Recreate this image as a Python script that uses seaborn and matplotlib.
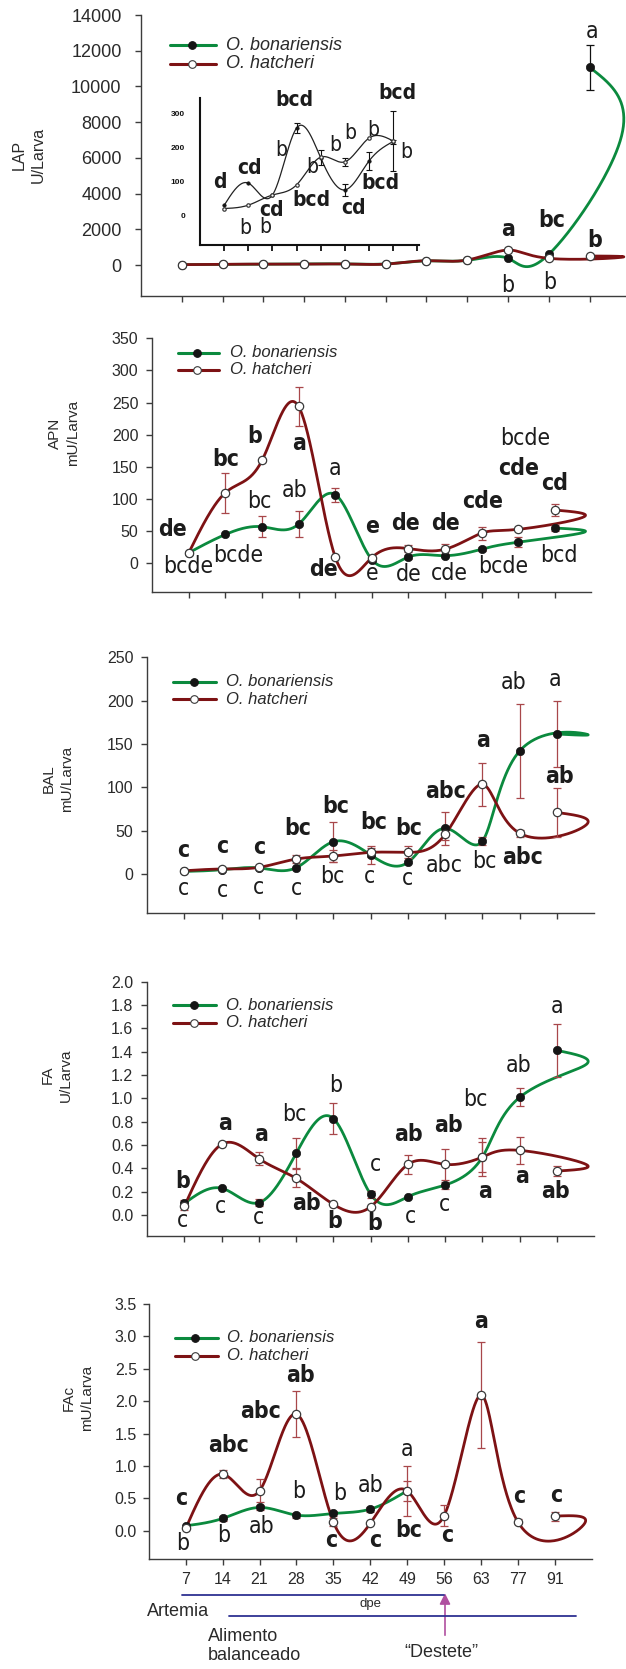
import numpy as np
import seaborn as sns
import matplotlib
matplotlib.use("Agg")
import matplotlib.pyplot as plt
from matplotlib import font_manager
from matplotlib.lines import Line2D
from matplotlib.patches import FancyArrowPatch

sns.set_theme(style="ticks")
plt.rcParams['font.family'] = ['Liberation Sans', 'DejaVu Sans']

# ------------------------------------------------------------------
# datos (dias post eclosion, posiciones equiespaciadas)
days = ['7', '14', '21', '28', '35', '42', '49', '56', '63', '77', '91']
tail_pos = 10.78   # las curvas ajustadas pasan del ultimo dia y vuelven

# LAP  U/Larva
lap_bon = [20, 30, 40, 60, 60, 60, 230, 260, 373, 600, 11070]
lap_bon_err = [0, 0, 0, 0, 0, 0, 0, 0, 0, 0, 1250]
lap_hat = [20, 40, 50, 50, 60, 50, 240, 280, 840, 373, 504]
lap_hat_err = [0] * 11
lap_tail = [7200, 430]

# LAP recuadro (primeros 8 muestreos)
ins_bon = [30, 95, 60, 258, 170, 75, 160, 218]
ins_bon_err = [0, 0, 0, 15, 22, 18, 27, 6]
ins_hat = [20, 30, 60, 90, 172, 158, 228, 220]
ins_hat_err = [0, 0, 0, 0, 0, 12, 0, 89]

# APN  mU/Larva
apn_bon = [16.6, 45, 57, 61, 107, 6, 10, 12, 22, 33, 55]
apn_bon_err = [0, 0, 16, 20, 11, 0, 3, 2, 3, 8, 5]
apn_hat = [16.6, 110, 160, 244, 10, 9, 23, 22, 47, 53, 83]
apn_hat_err = [0, 31, 3, 31, 0, 0, 6, 8, 10, 0, 10]
apn_tail = [48, 72]

# BAL  mU/Larva
bal_bon = [3, 5, 7, 7.3, 37.3, 22, 13.5, 52.7, 38, 142, 161.5]
bal_bon_err = [0, 0, 0, 0, 23, 10, 0, 19, 5, 54, 38.5]
bal_hat = [3.8, 5.8, 7.7, 17.3, 20.8, 25, 25, 45.8, 103.5, 47, 71]
bal_hat_err = [0, 0, 0, 5, 7, 5, 7, 6, 25, 4, 28]
bal_tail = [161.5, 56.5]

# FA  U/Larva
fa_bon = [0.10, 0.229, 0.106, 0.529, 0.826, 0.177, 0.157, 0.257, 0.497, 1.009, 1.411]
fa_bon_err = [0.03, 0, 0.03, 0.13, 0.13, 0.03, 0, 0.03, 0.16, 0.076, 0.23]
fa_hat = [0.077, 0.606, 0.483, 0.314, 0.091, 0.071, 0.434, 0.434, 0.497, 0.554, 0.377]
fa_hat_err = [0.03, 0, 0.057, 0.077, 0, 0, 0.08, 0.13, 0.13, 0.116, 0.04]
fa_tail = [1.29, 0.434]

# FAc  mU/Larva (O. bonariensis solo hasta 49 dpe)
fac_bon = [0.077, 0.19, 0.36, 0.242, 0.267, 0.334, 0.617]
fac_bon_err = [0, 0.04, 0.04, 0.04, 0.04, 0.04, 0.155]
fac_hat = [0.036, 0.874, 0.617, 1.80, 0.139, 0.113, 0.617, 0.231, 2.094, 0.139, 0.226]
fac_hat_err = [0, 0.065, 0.175, 0.35, 0.06, 0, 0.39, 0.16, 0.82, 0.04, 0.07]
fac_tail = [None, 0.09]

# letras de significancia: (posicion, valor, texto, peso)
lap_let = [(10.05, 13066, 'a', 'normal'), (8.0, 1960, 'a', 'bold'), (8.0, -1120, 'b', 'normal'),
           (9.07, 2481, 'bc', 'bold'), (9.03, -991, 'b', 'normal'), (10.13, 1361, 'b', 'bold')]
ins_let = [(2.93, 341, 'bcd', 'bold'), (7.17, 362, 'bcd', 'bold'), (-0.18, 99, 'd', 'bold'),
           (1.06, 139, 'cd', 'bold'), (0.86, -38, 'b', 'normal'), (1.98, 16, 'cd', 'bold'),
           (1.72, -36, 'b', 'normal'), (2.38, 193, 'b', 'normal'), (3.63, 45, 'bcd', 'bold'),
           (3.63, 144, 'b', 'normal'), (4.59, 208, 'b', 'normal'), (5.24, 243, 'b', 'normal'),
           (5.35, 21, 'cd', 'bold'), (6.18, 253, 'b', 'normal'), (6.46, 95, 'bcd', 'bold'),
           (7.57, 188, 'b', 'normal')]
apn_let = [(-0.45, 52, 'de', 'bold'), (-0.03, -5, 'bcde', 'normal'), (1.0, 161, 'bc', 'bold'),
           (1.35, 13, 'bcde', 'normal'), (1.79, 197, 'b', 'bold'), (1.93, 96, 'bc', 'normal'),
           (3.0, 187, 'a', 'bold'), (2.88, 114, 'ab', 'normal'), (4.0, 148, 'a', 'normal'),
           (3.68, -10, 'de', 'bold'), (5.0, 58, 'e', 'bold'), (5.0, -16, 'e', 'normal'),
           (5.91, 62, 'de', 'bold'), (6.02, -18, 'de', 'normal'), (7.02, 62, 'de', 'bold'),
           (7.13, -15, 'cde', 'normal'), (8.04, 96, 'cde', 'bold'), (8.58, -5, 'bcde', 'normal'),
           (9.18, 194, 'bcde', 'normal'), (9.0, 148, 'cde', 'bold'), (10.0, 124, 'cd', 'bold'),
           (10.1, 13, 'bcd', 'normal')]
bal_let = [(-0.02, 27.7, 'c', 'bold'), (-0.02, -16.5, 'c', 'normal'), (1.02, 32.3, 'c', 'bold'),
           (1.02, -18.5, 'c', 'normal'), (2.0, 30.4, 'c', 'bold'), (2.0, -15.4, 'c', 'normal'),
           (3.03, 52.7, 'bc', 'bold'), (3.0, -16.5, 'c', 'normal'), (4.05, 77.7, 'bc', 'bold'),
           (3.98, -3, 'bc', 'normal'), (5.09, 59.6, 'bc', 'bold'), (4.98, -3, 'c', 'normal'),
           (6.03, 52.7, 'bc', 'bold'), (6.0, -5, 'c', 'normal'), (7.0, 95, 'abc', 'bold'),
           (6.97, 10.4, 'abc', 'normal'), (8.02, 153.5, 'a', 'bold'), (8.05, 14.2, 'bc', 'normal'),
           (8.84, 220.7, 'ab', 'normal'), (9.09, 18.8, 'abc', 'bold'), (9.95, 224.6, 'a', 'normal'),
           (10.08, 112.3, 'ab', 'bold')]
fa_let = [(-0.05, 0.286, 'b', 'bold'), (-0.05, -0.043, 'c', 'normal'), (1.1, 0.786, 'a', 'bold'),
          (0.96, 0.071, 'c', 'normal'), (2.06, 0.694, 'a', 'bold'), (1.98, -0.02, 'c', 'normal'),
          (2.95, 0.863, 'bc', 'normal'), (3.27, 0.1, 'ab', 'bold'), (4.05, 1.114, 'b', 'normal'),
          (4.03, -0.057, 'b', 'bold'), (5.12, 0.437, 'c', 'normal'), (5.1, -0.071, 'b', 'bold'),
          (6.01, 0.694, 'ab', 'bold'), (6.06, -0.014, 'c', 'normal'), (7.1, 0.771, 'ab', 'bold'),
          (6.99, 0.086, 'c', 'normal'), (7.8, 0.986, 'bc', 'normal'), (8.07, 0.2, 'a', 'bold'),
          (8.98, 1.28, 'ab', 'normal'), (9.07, 0.329, 'a', 'bold'), (10.0, 1.79, 'a', 'normal'),
          (9.95, 0.2, 'ab', 'bold')]
fac_let = [(-0.11, 0.5, 'c', 'bold'), (-0.07, -0.195, 'b', 'normal'), (1.15, 1.32, 'abc', 'bold'),
           (1.02, -0.067, 'b', 'normal'), (2.02, 1.84, 'abc', 'bold'), (2.05, 0.062, 'ab', 'normal'),
           (3.12, 2.4, 'ab', 'bold'), (3.07, 0.6, 'b', 'normal'), (4.17, 0.576, 'b', 'normal'),
           (3.94, -0.144, 'c', 'bold'), (5.0, 0.705, 'ab', 'normal'), (5.15, -0.144, 'c', 'bold'),
           (6.01, 1.255, 'a', 'normal'), (6.04, 0.01, 'bc', 'bold'), (7.08, -0.067, 'c', 'bold'),
           (8.0, 3.225, 'a', 'bold'), (9.04, 0.525, 'c', 'bold'), (10.04, 0.55, 'c', 'bold')]

# ------------------------------------------------------------------
GREEN = '#0b8a3e'
RED = '#7d1214'
ERR = '#a8474a'
INK = '#1c1c1c'
AXC = '#3c3c3c'

fonts = font_manager.fontManager.ttflist
names = {f.name for f in fonts}
if 'Liberation Sans Narrow' in names:
    LET = dict(family=['Liberation Sans Narrow', 'DejaVu Sans'])
    LET_FS = 17.5
elif any(f.name == 'DejaVu Sans' and str(f.stretch) == 'condensed' for f in fonts):
    LET = dict(family=['DejaVu Sans'], fontstretch='condensed')
    LET_FS = 16.5
else:
    LET = dict(family=['Liberation Sans', 'DejaVu Sans'])
    LET_FS = 15

W, H = 626, 1669
fig = plt.figure(figsize=(W / 100, H / 100), dpi=100)
fig.patch.set_facecolor('white')


def box(l, t, r, b):
    return [l / W, 1 - b / H, (r - l) / W, (b - t) / H]


def fp(x, y):
    return (x / W, 1 - y / H)


def nat_spline(t, v, tt):
    n = len(t)
    h = np.diff(t)
    A = np.zeros((n, n))
    r = np.zeros(n)
    A[0, 0] = A[-1, -1] = 1.0
    for i in range(1, n - 1):
        A[i, i - 1] = h[i - 1]
        A[i, i] = 2 * (h[i - 1] + h[i])
        A[i, i + 1] = h[i]
        r[i] = 3 * ((v[i + 1] - v[i]) / h[i] - (v[i] - v[i - 1]) / h[i - 1])
    c = np.linalg.solve(A, r)
    b = (v[1:] - v[:-1]) / h - h * (2 * c[:-1] + c[1:]) / 3
    d = (c[1:] - c[:-1]) / (3 * h)
    k = np.clip(np.searchsorted(t, tt, side='right') - 1, 0, n - 2)
    dt = tt - t[k]
    return v[k] + b[k] * dt + c[k] * dt ** 2 + d[k] * dt ** 3


def curve(ax, vals, tail, color, lw=2.0):
    xs = list(range(len(vals)))
    ys = list(vals)
    if tail is not None:
        xs = xs[:-1] + [tail_pos, xs[-1]]
        ys = ys[:-1] + [tail, ys[-1]]
    X = np.asarray(xs, float)
    Y = np.asarray(ys, float)
    t = np.arange(len(X), dtype=float)        # parametro uniforme por punto
    tt = np.linspace(0, t[-1], 60 * len(X))
    cx = nat_spline(t, X, tt)
    cy = nat_spline(t, Y, tt)
    sns.lineplot(x=cx, y=cy, sort=False, estimator=None, color=color, lw=lw, ax=ax, zorder=3)


def errs(ax, vals, err, color, lw=0.9, cap=3.0):
    x = [i for i, e in enumerate(err) if e > 0]
    if x:
        ax.errorbar(x, [vals[i] for i in x], yerr=[err[i] for i in x], fmt='none',
                    ecolor=color, elinewidth=lw, capsize=cap, capthick=lw, zorder=4)


def marks(ax, vals, filled, s=36):
    x = list(range(len(vals)))
    if filled:
        sns.scatterplot(x=x, y=vals, color='#151515', edgecolor='#151515', s=s,
                        linewidth=0.5, ax=ax, zorder=5)
    else:
        sns.scatterplot(x=x, y=vals, color='white', edgecolor='#3a3a3a', s=s,
                        linewidth=0.9, ax=ax, zorder=6)


def letters(ax, items, fs=None):
    for p, v, txt, w in items:
        ax.text(p, v, txt, ha='center', va='center', fontsize=fs or LET_FS, fontweight=w,
                color=INK, zorder=8, clip_on=False, **LET)


def panel(rect, ylim, yticks, fmt, fs, pad):
    ax = fig.add_axes(rect)
    ax.patch.set_alpha(0)
    ax.set_xlim(-1, 11)
    ax.set_ylim(*ylim)
    sns.despine(ax=ax)
    for s in ('left', 'bottom'):
        ax.spines[s].set_color(AXC)
        ax.spines[s].set_linewidth(1.0)
    ax.set_xticks(range(11))
    ax.set_xticklabels([])
    ax.set_yticks(yticks)
    ax.set_yticklabels([fmt.format(v) for v in yticks], fontsize=fs, color='#2a2a2a')
    ax.tick_params(axis='both', direction='out', length=4, width=1.0, color=AXC)
    ax.tick_params(axis='y', pad=pad)
    ax.grid(False)
    return ax


def legend(x0, x1, xm, y1, y2, xt, fs):
    rows = [(y1, GREEN, '#151515', '#151515', 'O. bonariensis'),
            (y2, RED, 'white', '#3a3a3a', 'O. hatcheri')]
    for y, col, face, edge, lab in rows:
        a, b = fp(x0, y)
        c, _ = fp(x1, y)
        fig.add_artist(Line2D([a, c], [b, b], color=col, lw=2.2))
        mx, my = fp(xm, y)
        fig.add_artist(Line2D([mx], [my], marker='o', ms=5.5, mfc=face, mec=edge, mew=0.8, ls='none'))
        tx, ty = fp(xt, y)
        fig.text(tx, ty, lab, fontsize=fs, style='italic', va='center', ha='left', color='#2a2a2a')


def ylab(x, y, txt, fs=11):
    fx, fy = fp(x, y)
    fig.text(fx, fy, txt, rotation=90, ha='center', va='center', fontsize=fs,
             multialignment='center', linespacing=1.35, color='#2a2a2a')


def draw(ax, bon, bon_err, hat, hat_err, tails, ecol=ERR):
    curve(ax, bon, tails[0], GREEN)
    curve(ax, hat, tails[1], RED)
    errs(ax, bon, bon_err, ecol)
    errs(ax, hat, hat_err, ecol)
    marks(ax, bon, True)
    marks(ax, hat, False)


# ---- LAP ----
ax1 = panel(box(141, 15, 630.4, 296), (-1736, 14000), list(range(0, 14001, 2000)), '{:d}', 13, 10)
draw(ax1, lap_bon, lap_bon_err, lap_hat, lap_hat_err, lap_tail, ecol='#111111')
letters(ax1, lap_let)
legend(170, 216, 191.6, 45, 64, 225.5, 13)
ylab(29, 155, 'LAP\nU/Larva', 11.5)

# recuadro
axi = fig.add_axes(box(200.2, 98, 419, 245))
axi.patch.set_alpha(0)
axi.set_xlim(-1, 8.08)
axi.set_ylim(-88, 347)
sns.despine(ax=axi)
for s in ('left', 'bottom'):
    axi.spines[s].set_color('#111111')
    axi.spines[s].set_linewidth(1.5)
axi.set_xticks(range(9))
axi.set_xticklabels([])
axi.set_yticks([0, 100, 200, 300])
axi.set_yticklabels(['0', '100', '200', '300'], fontsize=6, fontweight='bold', color='#111111')
axi.tick_params(axis='y', length=0, pad=11)
axi.tick_params(axis='x', direction='out', length=4, width=1.3, color='#111111')
curve(axi, ins_bon, None, '#222222', lw=0.9)
curve(axi, ins_hat, None, '#222222', lw=0.9)
errs(axi, ins_bon, ins_bon_err, '#111111', lw=0.8, cap=2.0)
errs(axi, ins_hat, ins_hat_err, '#111111', lw=0.8, cap=2.0)
marks(axi, ins_bon, True, s=6)
marks(axi, ins_hat, False, s=6)
letters(axi, ins_let, LET_FS - 1.5)

# ---- APN ----
ax2 = panel(box(152.2, 338.3, 591.4, 591.7), (-44, 350), list(range(0, 351, 50)), '{:d}', 11.5, 6)
draw(ax2, apn_bon, apn_bon_err, apn_hat, apn_hat_err, apn_tail)
letters(ax2, apn_let)
legend(177.6, 218.8, 196.8, 352.7, 370, 229.5, 12)
ylab(64, 433, 'APN\nmU/Larva')

# ---- BAL ----
ax3 = panel(box(147.2, 657.3, 594.2, 912.7), (-44.6, 250), list(range(0, 251, 50)), '{:d}', 11.5, 6)
draw(ax3, bal_bon, bal_bon_err, bal_hat, bal_hat_err, bal_tail)
letters(ax3, bal_let)
legend(172.9, 215.6, 193.6, 681.7, 699, 225.5, 12)
ylab(58, 779, 'BAL\nmU/Larva')

# ---- FA ----
ax4 = panel(box(147.2, 981.7, 594.2, 1236), (-0.18, 2.0), list(np.round(np.arange(0, 2.01, 0.2), 1)),
            '{:.1f}', 11.5, 6)
draw(ax4, fa_bon, fa_bon_err, fa_hat, fa_hat_err, fa_tail)
letters(ax4, fa_let)
legend(172.9, 215.6, 193.6, 1005.3, 1022.7, 225.5, 12)
ylab(57, 1075, 'FA\nU/Larva')

# ---- FAc ----
ax5 = panel(box(148.8, 1304, 591.6, 1559.3), (-0.44, 3.5), list(np.round(np.arange(0, 3.51, 0.5), 1)),
            '{:.1f}', 11.5, 4.5)
draw(ax5, fac_bon, fac_bon_err, fac_hat, fac_hat_err, fac_tail)
letters(ax5, fac_let)
legend(175, 218.3, 195, 1337.7, 1355.7, 226.7, 12)
ylab(78, 1398, 'FAc\nmU/Larva')
ax5.set_xticklabels(days, fontsize=11.5, color='#2a2a2a')
ax5.tick_params(axis='x', pad=5)

# ---- regimen de alimentacion ----
NAVY = '#2e3192'
for (xa, xb, y) in [(181.6, 444, 1595.3), (228.7, 576, 1616)]:
    a, b = fp(xa, y)
    c, _ = fp(xb, y)
    fig.add_artist(Line2D([a, c], [b, b], color=NAVY, lw=1.3))
fig.add_artist(FancyArrowPatch(fp(445, 1638), fp(445, 1590.5), transform=fig.transFigure,
                               arrowstyle='-|>', mutation_scale=16, color='#b04fa0', lw=1.2))
fig.text(*fp(370, 1604), 'dpe', fontsize=9.5, ha='center', va='center', color='#2a2a2a')
fig.text(*fp(146.5, 1611), 'Artemia', fontsize=13, ha='left', va='center', color='#2a2a2a')
fig.text(*fp(207.6, 1646), 'Alimento\nbalanceado', fontsize=13, ha='left', va='center',
         linespacing=1.15, color='#2a2a2a')
fig.text(*fp(441, 1652), '\u201cDestete\u201d', fontsize=13, ha='center', va='center', color='#2a2a2a')

fig.savefig('out.png', dpi=100, facecolor='white')
